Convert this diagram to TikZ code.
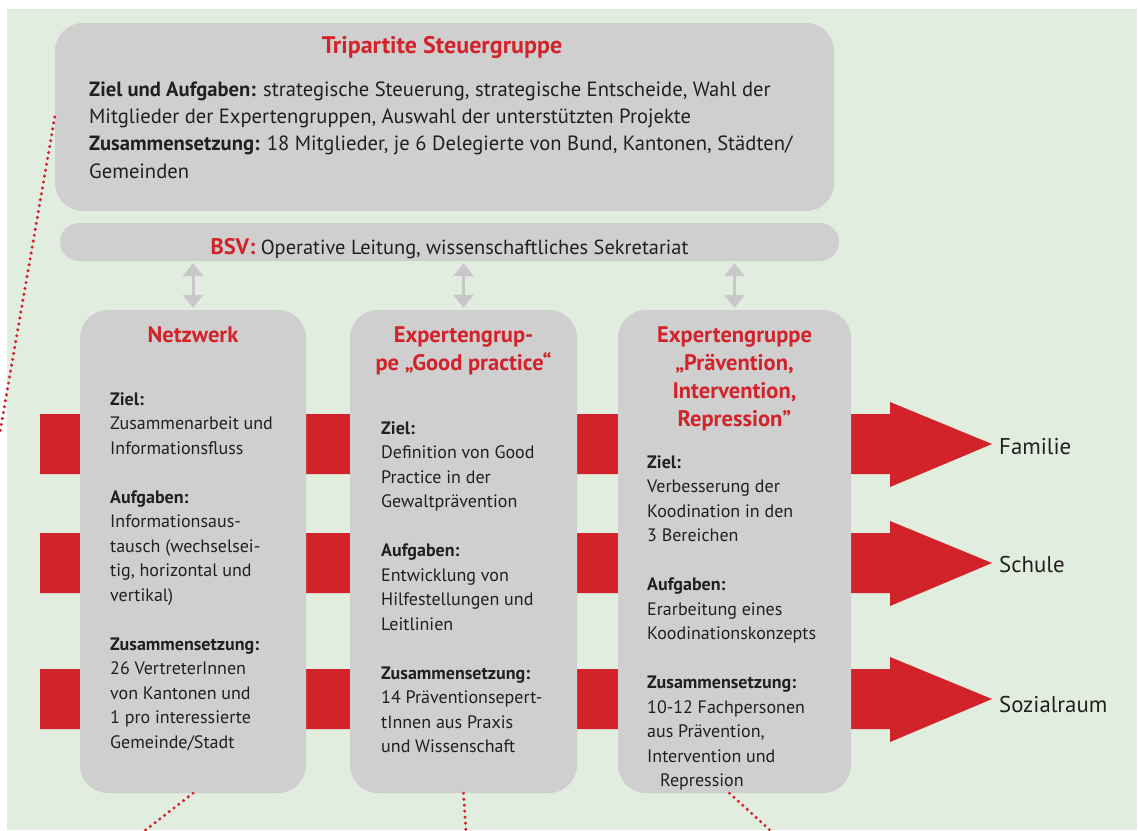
\documentclass[tikz,border=0pt]{standalone}
\usepackage{fontspec}
\setmainfont{PT Sans}
\usetikzlibrary{arrows.meta}
\definecolor{bg}{HTML}{E1EDDE}
\definecolor{boxgrey}{HTML}{CFCFCF}
\definecolor{accent}{HTML}{D2232A}
\definecolor{ink}{HTML}{231F20}
\definecolor{linkgrey}{HTML}{C8C8C8}
\begin{document}
\begin{tikzpicture}[x=1pt,y=-1pt,
  panel/.style={fill=boxgrey, draw=none, rounded corners=28pt, inner sep=0pt},
  heading/.style={anchor=north, inner sep=0pt, align=center, text=accent,
    font=\fontsize{22.5}{28.2}\selectfont\bfseries},
  body/.style={anchor=north west, inner sep=0pt, align=left, text=ink,
    font=\fontsize{18}{24.5}\selectfont},
  topbody/.style={anchor=north west, inner sep=0pt, align=left, text=ink,
    font=\fontsize{20.6}{27.3}\selectfont},
  target/.style={anchor=base west, inner sep=0pt, text=ink,
    font=\fontsize{22.8}{26}\selectfont},
  duplex/.style={draw=linkgrey, line width=3pt,
    {Triangle[width=20pt,length=13pt]}-{Triangle[width=20pt,length=13pt]},
    shorten <=2pt, shorten >=2pt},
  dots/.style={draw=accent, line width=3.4pt, line cap=round,
    dash pattern=on 0pt off 6pt}
]
\useasboundingbox (0,0) rectangle (1139,830);
\fill[white] (0,0) rectangle (1139,830);
\fill[bg] (7,9) rectangle (1137,830);

% red bands running behind the three groups into the fields
\foreach \c in {444,563,699}{
  \fill[accent] (40,{\c-30}) -- (890,{\c-30}) -- (890,{\c-42}) -- (992,\c)
    -- (890,{\c+43}) -- (890,{\c+30}) -- (40,{\c+30}) -- cycle;
}

% steering group and secretariat
\node[panel, minimum width=779pt, minimum height=188pt] (steuer) at (444.5,117) {};
\node[panel, rounded corners=19pt, minimum width=779pt, minimum height=38pt] (bsv) at (449.5,242) {};

% the three working bodies
\node[panel, minimum width=226pt, minimum height=483pt] (netz) at (193,551.5) {};
\node[panel, minimum width=227pt, minimum height=483pt] (good) at (463.5,551.5) {};
\node[panel, minimum width=233pt, minimum height=483pt] (prev) at (734.5,551.5) {};

% texts of the steering group
\node[heading, font=\fontsize{24}{28}\selectfont\bfseries] (steuertitle) at (442,{53-18}) {\rule{0pt}{18pt}Tripartite Steuergruppe};
\node[topbody] (steuertext) at (89,{96-18}) {\rule{0pt}{18pt}\textbf{Ziel und Aufgaben:} strategische Steuerung, strategische Entscheide, Wahl der\\
Mitglieder der Expertengruppen, Auswahl der unterstützten Projekte\\
\textbf{Zusammensetzung:} 18 Mitglieder, je 6 Delegierte von Bund, Kantonen, Städten/\\
Gemeinden};
\node[anchor=base, inner sep=0pt, text=ink, font=\fontsize{20.4}{24}\selectfont] (bsvtext) at (449.5,254)
  {{\color{accent}\fontsize{22.5}{24}\selectfont\bfseries BSV:} Operative Leitung, wissenschaftliches Sekretariat};

% headings of the working bodies
\node[heading] (netztitle) at (193,{342-18}) {\rule{0pt}{18pt}Netzwerk};
\node[heading] (goodtitle) at (463.5,{342-18}) {\rule{0pt}{18pt}Expertengrup-\\pe „Good practice“};
\node[heading] (prevtitle) at (734.5,{342-18}) {\rule{0pt}{18pt}Expertengruppe\\„Prävention,\\Intervention,\\Repression”};

% bodies of the working groups
\node[body] (netztext) at (110,{405-16}) {\rule{0pt}{16pt}\textbf{Ziel:}\\
Zusammenarbeit und\\
Informationsfluss\\[24.5pt]
\textbf{Aufgaben:}\\
Informationsaus-\\
tausch (wechselsei-\\
tig, horizontal und\\
vertikal)\\[24.5pt]
\textbf{Zusammensetzung:}\\
26 VertreterInnen\\
von Kantonen und\\
1 pro interessierte\\
Gemeinde/Stadt};

\node[body] (goodtext) at (381,{434-16}) {\rule{0pt}{16pt}\textbf{Ziel:}\\
Definition von Good\\
Practice in der\\
Gewaltprävention\\[24.5pt]
\textbf{Aufgaben:}\\
Entwicklung von\\
Hilfestellungen und\\
Leitlinien\\[24.5pt]
\textbf{Zusammensetzung:}\\
14 Präventionsepert-\\
tInnen aus Praxis\\
und Wissenschaft};

\node[body] (prevtext) at (647,{468-16}) {\rule{0pt}{16pt}\textbf{Ziel:}\\
Verbesserung der\\
Koodination in den\\
3 Bereichen\\[24.5pt]
\textbf{Aufgaben:}\\
Erarbeitung eines\\
Koodinationskonzepts\\[24.5pt]
\textbf{Zusammensetzung:}\\
10-12 Fachpersonen\\
aus Prävention,\\
Intervention und\\
\hspace*{13pt}Repression};

% fields reached by the bands
\node[target] (familie) at (999,454) {Familie};
\node[target] (schule) at (999,572) {Schule};
\node[target] (sozial) at (999,712) {Sozialraum};

% exchange with the secretariat
\draw[duplex] (netz.north |- bsv.south) -- (netz.north);
\draw[duplex] (good.north |- bsv.south) -- (good.north);
\draw[duplex] (prev.north |- bsv.south) -- (prev.north);

% dotted leaders
\coordinate (leadA) at (0,432);
\coordinate (leadB) at (143,832);
\coordinate (leadC) at (466,832);
\coordinate (leadD) at (772,832);
\draw[dots] (steuer.west) -- (leadA);
\draw[dots] (netz.south) -- (leadB);
\draw[dots] (good.south) -- (leadC);
\draw[dots] ([xshift=-5pt]prev.south) -- (leadD);
\end{tikzpicture}
\end{document}
